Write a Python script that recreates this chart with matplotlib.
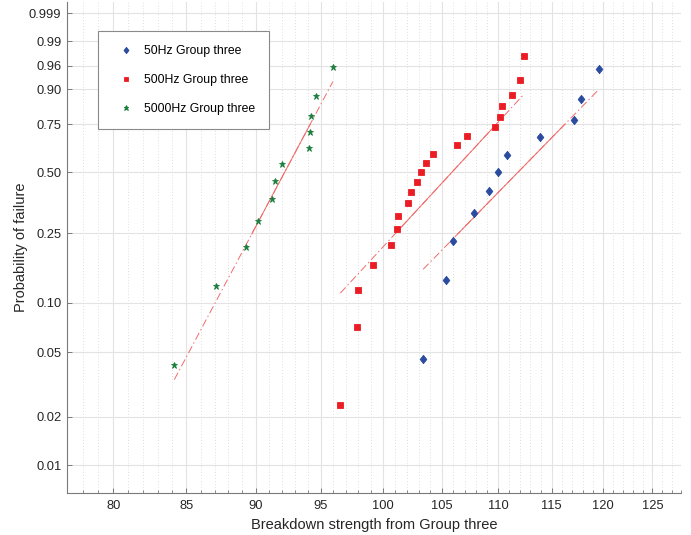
import numpy as np
import matplotlib
matplotlib.use('Agg')
import matplotlib.pyplot as plt

# Breakdown strength values (sorted)
strength_50hz = [103.4, 105.4, 105.95, 107.8, 109.15, 110.0, 110.8, 113.85, 117.1, 117.85, 119.6]
strength_500hz = [96.55, 97.85, 98.0, 99.2, 100.65, 101.2, 101.3, 102.1, 102.4, 102.85, 103.2,
                  103.65, 104.25, 106.3, 107.2, 109.75, 110.15, 110.35, 111.25, 112.0, 112.4]
strength_5000hz = [84.15, 87.1, 89.3, 90.15, 91.25, 91.45, 92.0, 94.1, 94.15, 94.2, 94.6, 95.95]

labels = ['50Hz Group three', '500Hz Group three', '5000Hz Group three']
colors = ['#2a4b9f', '#ec1c24', '#1a7d3c']
# fatter diamond than matplotlib's 'd'
diamond = [(0, -1), (0.8, 0), (0, 1), (-0.8, 0), (0, -1)]
markers = [diamond, 's', '*']
marker_sizes = [6.0, 4.0, 5.0]

prob_ticks = [0.01, 0.02, 0.05, 0.10, 0.25, 0.50, 0.75, 0.90, 0.96, 0.99, 0.999]
prob_tick_labels = ['0.01', '0.02', '0.05', '0.10', '0.25', '0.50', '0.75', '0.90', '0.96', '0.99', '0.999']
x_ticks = [80, 85, 90, 95, 100, 105, 110, 115, 120, 125]


def weibull_y(p):
    p = np.asarray(p, dtype=float)
    return np.log(-np.log(1 - p))


def plot_weibull():
    plt.rcParams['font.family'] = ['Liberation Sans', 'DejaVu Sans']

    fig = plt.figure(figsize=(6.91, 5.35), dpi=100)
    ax = fig.add_axes([0.0970, 0.0785, 0.8886, 0.9178])
    ax.set_xscale('log')

    grupos = [strength_50hz, strength_500hz, strength_5000hz]

    # reference lines (same as MATLAB wblplot: quartile fit, extended to data extremes)
    for dados in grupos:
        x = np.sort(np.asarray(dados, dtype=float))
        n = len(x)
        y = weibull_y((np.arange(1, n + 1) - 0.5) / n)
        u = np.log(x)
        q1x, q3x = np.percentile(u, [25, 75], method='hazen')
        q1y, q3y = np.percentile(y, [25, 75], method='hazen')
        slope = (q3y - q1y) / (q3x - q1x)
        cx, cy = (q1x + q3x) / 2, (q1y + q3y) / 2
        ends_u = np.array([u.min(), u.max()])
        ends_y = cy + slope * (ends_u - cx)
        ax.plot(np.exp([q1x, q3x]), [q1y, q3y], '-', color='#f26a6a', lw=0.7, zorder=2)
        ax.plot(np.exp(ends_u), ends_y, color='#f26a6a', lw=0.7,
                dashes=(8, 3, 1.5, 3), zorder=2)

    # data points
    for dados, lab, cor, mk, ms in zip(grupos, labels, colors, markers, marker_sizes):
        x = np.sort(np.asarray(dados, dtype=float))
        n = len(x)
        y = weibull_y((np.arange(1, n + 1) - 0.5) / n)
        ax.plot(x, y, linestyle='none', marker=mk, ms=ms, color=cor,
                mec=cor, mew=0.6, label=lab, zorder=3)

    # axes limits and ticks
    ax.set_xlim(77, 128)
    ax.set_ylim(weibull_y(0.0067), weibull_y(0.9997))
    ax.set_xticks(x_ticks)
    ax.set_xticklabels([str(t) for t in x_ticks])
    ax.set_xticks(np.arange(77, 129), minor=True)
    ax.xaxis.set_minor_formatter(matplotlib.ticker.NullFormatter())
    ax.set_yticks(weibull_y(prob_ticks))
    ax.set_yticklabels(prob_tick_labels)
    ax.yaxis.set_minor_locator(matplotlib.ticker.NullLocator())

    ax.tick_params(axis='both', which='major', direction='in', length=3.5, width=0.7,
                   color='#7a7a7a', labelsize=9.3, labelcolor='#262626')
    ax.tick_params(axis='x', which='major', pad=5)
    ax.tick_params(axis='y', which='major', pad=4)
    ax.tick_params(axis='x', which='minor', direction='in', length=2.2, width=0.6,
                   color='#7a7a7a')

    # grid
    ax.grid(True, which='major', color='#e3e3e3', lw=0.8, linestyle='-')
    ax.grid(True, which='minor', axis='x', color='#d3d3d3', lw=0.6, linestyle=(0, (1, 2.5)))
    ax.set_axisbelow(True)

    for lado in ['top', 'right']:
        ax.spines[lado].set_visible(False)
    for lado in ['left', 'bottom']:
        ax.spines[lado].set_color('#7a7a7a')
        ax.spines[lado].set_linewidth(0.8)

    ax.set_xlabel('Breakdown strength from Group three', fontsize=10.5, color='#262626', labelpad=4)
    ax.set_ylabel('Probability of failure', fontsize=10.5, color='#262626', labelpad=1)

    leg = ax.legend(loc='upper left', bbox_to_anchor=(98 / 691, 1 - 31 / 535),
                    bbox_transform=fig.transFigure, borderaxespad=0, fontsize=8.8,
                    frameon=True, fancybox=False, framealpha=1, edgecolor='#8a8a8a',
                    borderpad=1.15, handlelength=2.3, handletextpad=0.3,
                    labelspacing=1.4, markerscale=0.75)
    leg.get_frame().set_linewidth(0.8)

    plt.savefig('out.png', dpi=100)


if __name__ == '__main__':
    plot_weibull()
